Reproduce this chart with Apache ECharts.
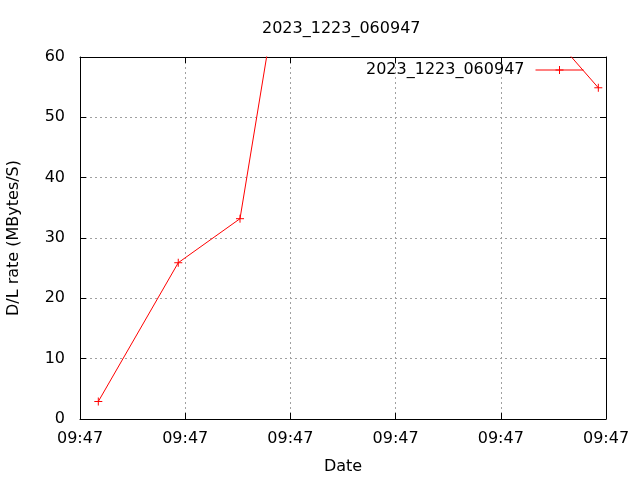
<!DOCTYPE html>
<html>
<head>
<meta charset="utf-8">
<script src="https://cdn.jsdelivr.net/npm/echarts@6/dist/echarts.min.js"></script>
<style>html,body{margin:0;padding:0;background:#fff}#c{width:640px;height:480px}</style>
</head>
<body>
<div id="c"></div>
<script>
var titleText = '2023_1223_060947';
var seriesName = '2023_1223_060947';
var xTickLabel = '09:47';
// x positions in tick units (6 ticks all labelled 09:47), values in MBytes/S
var times = [0.174, 0.934, 1.521, 2.0, 2.8, 3.5, 4.2, 4.927];
var rates = [2.9, 25.9, 33.2, 84, 90, 78, 69.4, 54.9];
var yTicks = [0, 10, 20, 30, 40, 50, 60];

var data = times.map(function (t, i) { return [t, rates[i]]; });
var FONT = 'DejaVu Sans';
var chart = echarts.init(document.getElementById('c'), null, {renderer: 'canvas'});
var plus = 'path://M0,5L10,5M5,0L5,10';
var gridLine = {show: true, lineStyle: {color: '#a0a0a0', width: 1, type: [2, 3]}};
chart.setOption({
  animation: false,
  backgroundColor: '#fff',
  title: {
    text: titleText, left: 262, top: 21, padding: 0,
    textStyle: {fontFamily: FONT, fontSize: 16, fontWeight: 'normal', color: '#000'}
  },
  legend: {
    right: 56, top: 62, padding: 0, align: 'right', itemWidth: 48, itemHeight: 10, itemGap: 0,
    textStyle: {fontFamily: FONT, fontSize: 16, color: '#000', padding: [0, 6, 0, 0]},
    lineStyle: {width: 1},
    itemStyle: {borderWidth: 1},
    data: [seriesName]
  },
  grid: {left: 80, right: 34, top: 57, bottom: 61, show: false, outerBoundsMode: 'none', containLabel: false},
  xAxis: [{
    type: 'value', min: 0, max: 5, interval: 1,
    name: 'Date', nameLocation: 'middle', nameGap: 40,
    nameTextStyle: {fontFamily: FONT, fontSize: 16, color: '#000'},
    axisLine: {show: true, onZero: false, lineStyle: {color: '#000', width: 1}},
    axisTick: {show: true, inside: true, length: 6, lineStyle: {color: '#000'}},
    axisLabel: {fontFamily: FONT, fontSize: 16, color: '#000', margin: 12, formatter: function () { return xTickLabel; }},
    splitLine: gridLine
  }, {
    type: 'value', position: 'top', min: 0, max: 5, interval: 1,
    axisLine: {show: true, onZero: false, lineStyle: {color: '#000', width: 1}},
    axisTick: {show: true, inside: true, length: 6, lineStyle: {color: '#000'}},
    axisLabel: {show: false}, splitLine: {show: false}
  }],
  yAxis: [{
    type: 'value', min: yTicks[0], max: yTicks[yTicks.length - 1], interval: 10,
    name: 'D/L rate (MBytes/S)', nameLocation: 'middle', nameGap: 58,
    nameTextStyle: {fontFamily: FONT, fontSize: 16, color: '#000'},
    axisLine: {show: true, onZero: false, lineStyle: {color: '#000', width: 1}},
    axisTick: {show: true, inside: true, length: 6, lineStyle: {color: '#000'}},
    axisLabel: {fontFamily: FONT, fontSize: 16, color: '#000', margin: 15},
    splitLine: gridLine
  }, {
    type: 'value', position: 'right', min: 0, max: 60, interval: 10,
    axisLine: {show: true, onZero: false, lineStyle: {color: '#000', width: 1}},
    axisTick: {show: true, inside: true, length: 6, lineStyle: {color: '#000'}},
    axisLabel: {show: false}, splitLine: {show: false}
  }],
  series: [{
    name: seriesName, type: 'line', data: data, clip: true,
    symbol: plus, symbolSize: 8, showSymbol: true, showAllSymbol: true,
    lineStyle: {color: '#ff0000', width: 1},
    itemStyle: {color: '#ff0000', borderColor: '#ff0000', borderWidth: 1}
  }]
});
</script>
</body>
</html>
